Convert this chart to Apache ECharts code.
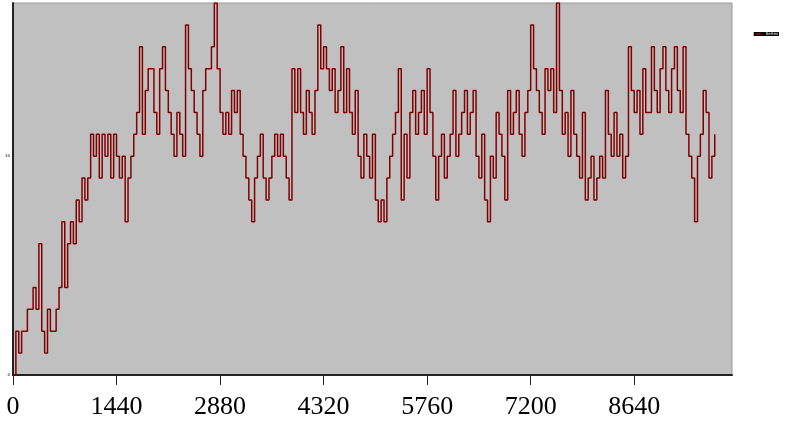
<!DOCTYPE html>
<html>
<head>
<meta charset="utf-8">
<script src="https://cdn.jsdelivr.net/npm/echarts@6/dist/echarts.min.js"></script>
<style>
  html, body { margin: 0; padding: 0; background: #fff; }
  #chart { width: 786px; height: 424px; }
</style>
</head>
<body>
<div id="chart"></div>
<script>
// 采样间隔（分钟）
var step = 40;
// 每 40 分钟读一次的取值，从 0 开始，每行 400 分钟
var counts = [
  0, 2, 1, 2, 2, 3, 3, 4, 3, 6,
  2, 1, 3, 2, 2, 3, 4, 7, 4, 6,
  7, 6, 8, 7, 9, 8, 9, 11, 10, 11,
  9, 11, 10, 11, 9, 11, 10, 9, 10, 7,
  9, 10, 11, 12, 15, 11, 13, 14, 14, 12,
  11, 14, 15, 13, 12, 11, 10, 12, 11, 10,
  16, 14, 13, 12, 11, 10, 13, 14, 14, 15,
  17, 14, 12, 11, 12, 11, 13, 12, 13, 11,
  10, 9, 8, 7, 9, 10, 11, 9, 8, 9,
  10, 11, 10, 11, 10, 9, 8, 14, 12, 14,
  12, 11, 13, 12, 11, 13, 16, 14, 15, 14,
  13, 14, 12, 13, 15, 12, 14, 12, 11, 13,
  10, 9, 11, 10, 9, 11, 8, 7, 8, 7,
  9, 10, 11, 12, 14, 8, 11, 9, 12, 13,
  11, 12, 13, 11, 14, 12, 10, 8, 10, 11,
  9, 10, 11, 13, 10, 11, 12, 13, 11, 12,
  13, 10, 9, 11, 8, 7, 10, 9, 12, 11,
  10, 8, 13, 11, 12, 13, 11, 10, 12, 13,
  16, 14, 13, 12, 11, 14, 13, 14, 12, 17,
  13, 11, 12, 10, 13, 11, 10, 9, 12, 8,
  9, 10, 8, 9, 10, 9, 13, 11, 10, 12,
  10, 11, 9, 10, 15, 13, 12, 13, 11, 14,
  12, 12, 15, 13, 12, 14, 15, 13, 12, 14,
  15, 13, 12, 15, 11, 10, 9, 7, 10, 11,
  13, 12, 9, 10, 11
];
var xTicks = [0, 1440, 2880, 4320, 5760, 7200, 8640];
var yTicks = [0, 10];

var points = counts.map(function (v, i) { return [i * step, v]; });

var myChart = echarts.init(document.getElementById('chart'));
myChart.setOption({
  animation: false,
  legend: {
    right: 7,
    top: 32,
    itemWidth: 5,
    itemHeight: 2,
    itemGap: 1,
    padding: [0, 1],
    backgroundColor: '#000',
    textStyle: { fontSize: 4, color: '#fff', fontFamily: 'DejaVu Sans' },
    data: ['Series']
  },
  grid: {
    left: 13,
    top: 3,
    width: 719,
    bottom: 49,
    show: true,
    backgroundColor: '#c0c0c0',
    borderColor: '#9a9a9a',
    borderWidth: 1
  },
  xAxis: {
    type: 'value',
    min: 0,
    max: 10000,
    interval: 1440,
    splitLine: { show: false },
    axisLine: { lineStyle: { color: '#222', width: 2 } },
    axisTick: { show: true, length: 10, customValues: xTicks, lineStyle: { color: '#222', width: 1 } },
    axisLabel: {
      customValues: xTicks,
      formatter: function (v) { return String(v); },
      margin: 19,
      fontSize: 26,
      color: '#000',
      fontFamily: 'Liberation Serif'
    }
  },
  yAxis: {
    type: 'value',
    min: 0,
    max: 17,
    interval: 10,
    splitLine: { show: false },
    axisLine: { show: true, lineStyle: { color: '#222', width: 2 } },
    axisTick: { show: true, length: 1, customValues: yTicks, lineStyle: { color: '#222' } },
    axisLabel: {
      customValues: yTicks,
      margin: 3,
      fontSize: 4,
      color: '#000',
      fontFamily: 'DejaVu Sans'
    }
  },
  series: [{
    name: 'Series',
    type: 'line',
    step: 'end',
    symbol: 'none',
    data: points,
    lineStyle: { color: '#800000', width: 1.5 },
    itemStyle: { color: '#800000' }
  }]
});
</script>
</body>
</html>
